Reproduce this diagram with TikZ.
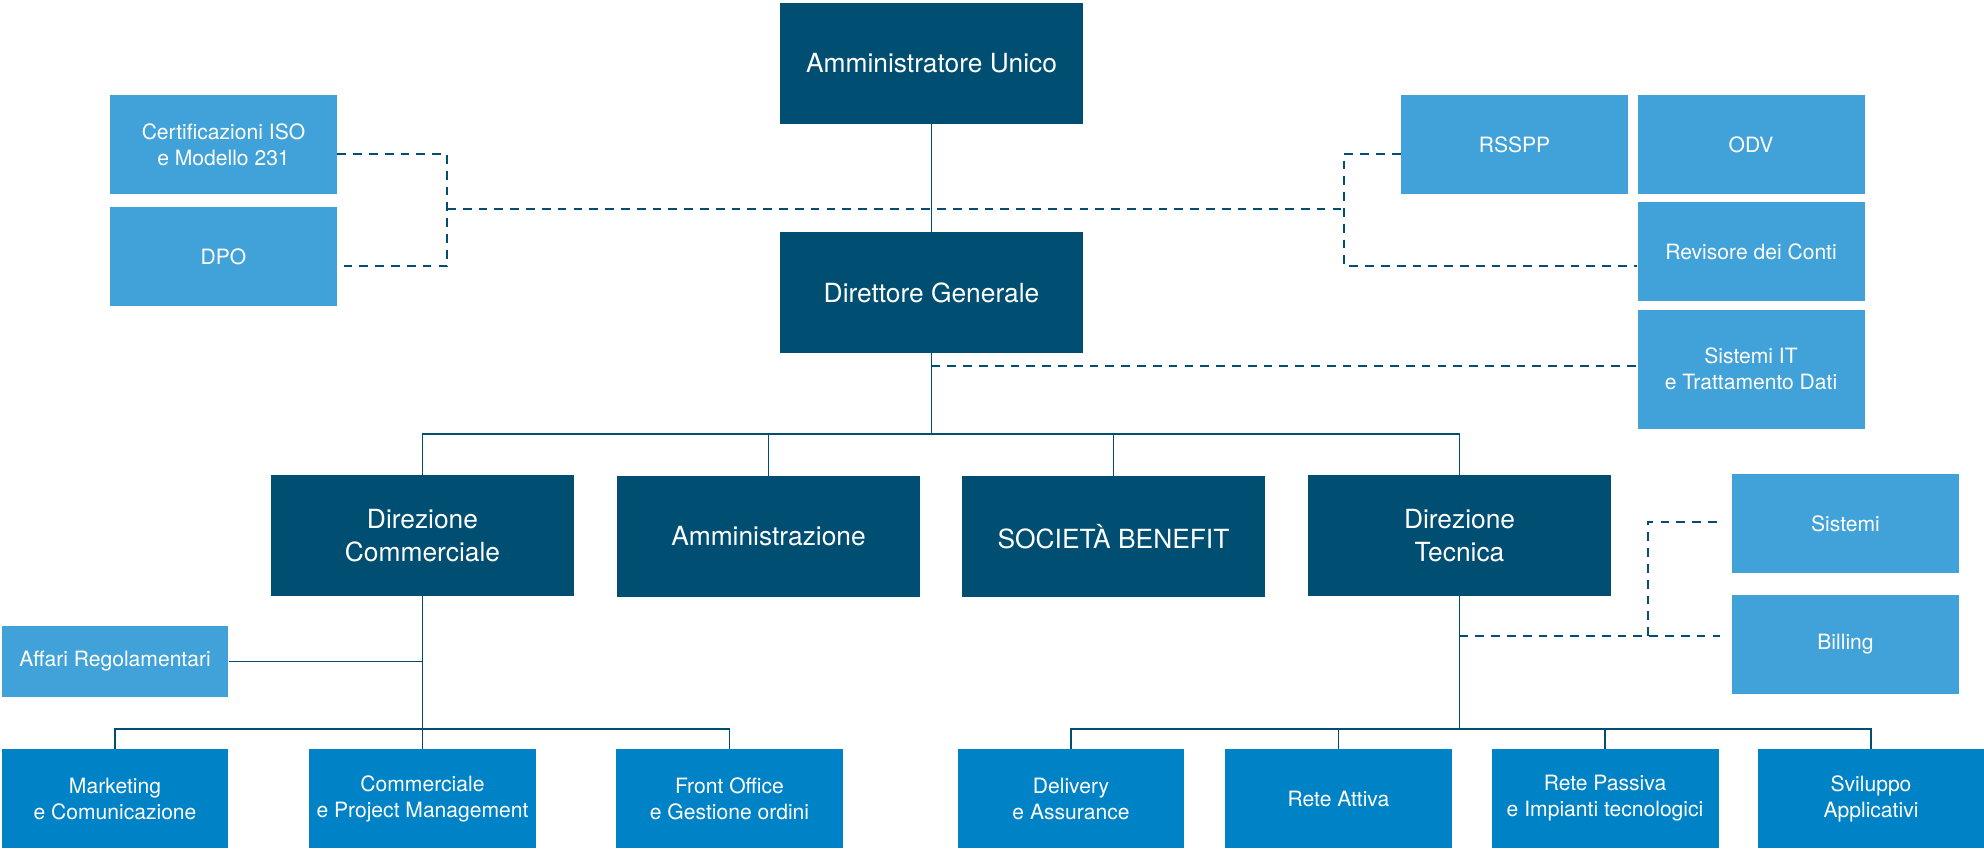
\documentclass[tikz,border=0pt]{standalone}
\usepackage{fontspec}
\setmainfont{TeX Gyre Heros}
\usetikzlibrary{positioning, calc}
\definecolor{navy}{RGB}{0, 79, 114}
\definecolor{sky}{RGB}{64, 162, 216}
\definecolor{ocean}{RGB}{0, 130, 198}
\tikzset{
    box/.style={rectangle, align=center, text=white, inner sep=2pt},
    head/.style={box, fill=navy, minimum width=6.06cm, minimum height=2.42cm, font=\fontsize{15}{18.5}\selectfont},
    staff/.style={box, fill=sky, minimum width=4.54cm, minimum height=1.98cm, font=\fontsize{12}{14.8}\selectfont},
    unit/.style={staff, fill=ocean},
    link/.style={navy, line width=0.9pt},
    dotlink/.style={link, dash pattern=on 5pt off 4pt}
}

\begin{document}
\begin{tikzpicture}[x=0.02cm, y=-0.02cm]
    \useasboundingbox (0,0) rectangle (1984,850);
    % top management
    \node[head] (au) at (931.5,63.5) {Amministratore Unico};
    \node[head] (dg) at (931.5,292.5) {Direttore Generale};
    % staff functions
    \node[staff] (cert) at (223.5,144.5) {Certificazioni ISO\\e Modello 231};
    \node[staff] (dpo) at (223.5,256.5) {DPO};
    \node[staff] (rsspp) at (1514.5,144.5) {RSSPP};
    \node[staff] (odv) at (1751,144.5) {ODV};
    \node[staff] (rev) at (1751,251.5) {Revisore dei Conti};
    \node[staff, minimum height=2.38cm] (sit) at (1751,369) {Sistemi IT\\e Trattamento Dati};
    % directions
    \node[head] (dc) at (422.5,535.5) {Direzione\\Commerciale};
    \node[head] (amm) at (768.5,536.5) {Amministrazione};
    \node[head] (sb) at (1113.5,536.5) {SOCIETÀ BENEFIT};
    \node[head] (dt) at (1459.5,535.5) {Direzione\\Tecnica};
    \node[staff] (sis) at (1845.5,523.5) {Sistemi};
    \node[staff] (bil) at (1845.5,644.5) {Billing};
    \node[staff, minimum height=1.42cm] (aff) at (115,661.5) {Affari Regolamentari};
    % offices
    \node[unit] (mkt) at (115,798.5) {Marketing\\e Comunicazione};
    \node[unit] (com) at (422.5,798.5) {Commerciale\\e Project Management};
    \node[unit] (fro) at (729.5,798.5) {Front Office\\e Gestione ordini};
    \node[unit] (del) at (1071,798.5) {Delivery\\e Assurance};
    \node[unit] (ra) at (1338.5,798.5) {Rete Attiva};
    \node[unit] (rp) at (1605,798.5) {Rete Passiva\\e Impianti tecnologici};
    \node[unit] (sa) at (1871,798.5) {Sviluppo\\Applicativi};

    % hierarchy
    \coordinate (bus) at (931.5,434);
    \coordinate (cbus) at (422.5,729);
    \coordinate (tbus) at (1459.5,729);
    \draw[link] (au) -- (dg);
    \draw[link] (dg) -- (bus);
    \foreach \n in {dc,amm,sb,dt} \draw[link] (bus) -| (\n.north);
    \draw[link] (dc) -- (cbus);
    \draw[link] (aff.east) -- (aff.east -| cbus);
    \foreach \n in {mkt,com,fro} \draw[link] (cbus) -| (\n.north);
    \draw[link] (dt) -- (tbus);
    \foreach \n in {del,ra,rp,sa} \draw[link] (tbus) -| (\n.north);

    % staff links
    \coordinate (lt) at (447,154);
    \coordinate (lm) at (447,209);
    \coordinate (lb) at (447,266);
    \coordinate (rt) at (1344,154);
    \coordinate (rm) at (1344,209);
    \coordinate (rb) at (1344,266);
    \coordinate (it) at (931.5,366);
    \coordinate (tq) at (1459.5,636);
    \coordinate (tk) at (1648,636);
    \coordinate (tj) at (1648,522);
    \draw[dotlink] (cert.east |- lt) -- (lt) -- (lb) -- (dpo.east |- lb);
    \draw[dotlink] (rsspp.west |- rt) -- (rt) -- (rb) -- (rev.west |- rb);
    \draw[dotlink] (lm) -- (rm);
    \draw[dotlink] (it) -- (sit.west |- it);
    \draw[dotlink, shorten >=0.24cm] (tq) -- (bil.west |- tq);
    \draw[dotlink, shorten >=0.24cm] (tk) -- (tj) -- (sis.west |- tj);
\end{tikzpicture}
\end{document}
